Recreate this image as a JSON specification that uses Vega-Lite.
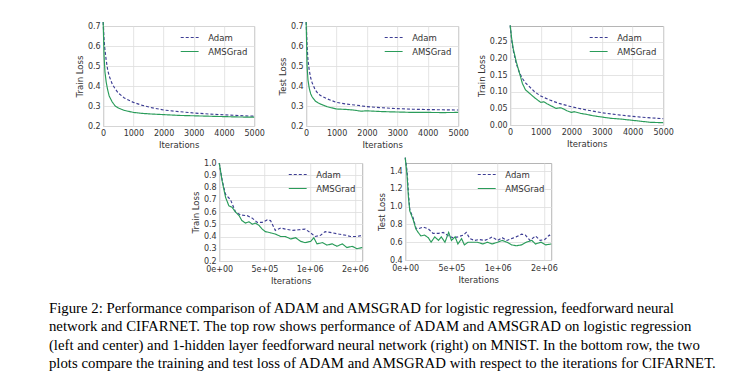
{
  "$schema": "https://vega.github.io/schema/vega-lite/v6.json",
  "background": "white",
  "padding": {"left": 48, "top": 19, "right": 5, "bottom": 5},
  "datasets": {
    "lr_train": [
      {"x":0,"y":0.72,"opt":"Adam"},{"x":30,"y":0.63,"opt":"Adam"},{"x":60,"y":0.58,"opt":"Adam"},{"x":100,"y":0.53,"opt":"Adam"},{"x":150,"y":0.48,"opt":"Adam"},{"x":200,"y":0.45,"opt":"Adam"},{"x":300,"y":0.41,"opt":"Adam"},{"x":400,"y":0.385,"opt":"Adam"},{"x":500,"y":0.365,"opt":"Adam"},{"x":700,"y":0.34,"opt":"Adam"},{"x":1000,"y":0.318,"opt":"Adam"},{"x":1300,"y":0.303,"opt":"Adam"},{"x":1600,"y":0.292,"opt":"Adam"},{"x":2000,"y":0.28,"opt":"Adam"},{"x":2500,"y":0.272,"opt":"Adam"},{"x":3000,"y":0.265,"opt":"Adam"},{"x":3500,"y":0.26,"opt":"Adam"},{"x":4000,"y":0.256,"opt":"Adam"},{"x":4500,"y":0.252,"opt":"Adam"},{"x":5000,"y":0.249,"opt":"Adam"},
      {"x":0,"y":0.72,"opt":"AMSGrad"},{"x":30,"y":0.55,"opt":"AMSGrad"},{"x":60,"y":0.47,"opt":"AMSGrad"},{"x":100,"y":0.42,"opt":"AMSGrad"},{"x":150,"y":0.38,"opt":"AMSGrad"},{"x":200,"y":0.35,"opt":"AMSGrad"},{"x":300,"y":0.32,"opt":"AMSGrad"},{"x":400,"y":0.30,"opt":"AMSGrad"},{"x":500,"y":0.29,"opt":"AMSGrad"},{"x":700,"y":0.278,"opt":"AMSGrad"},{"x":1000,"y":0.268,"opt":"AMSGrad"},{"x":1300,"y":0.263,"opt":"AMSGrad"},{"x":1600,"y":0.26,"opt":"AMSGrad"},{"x":2000,"y":0.257,"opt":"AMSGrad"},{"x":2500,"y":0.253,"opt":"AMSGrad"},{"x":3000,"y":0.251,"opt":"AMSGrad"},{"x":3500,"y":0.249,"opt":"AMSGrad"},{"x":4000,"y":0.247,"opt":"AMSGrad"},{"x":4500,"y":0.245,"opt":"AMSGrad"},{"x":5000,"y":0.244,"opt":"AMSGrad"}
    ],
    "lr_test": [
      {"x":0,"y":0.72,"opt":"Adam"},{"x":30,"y":0.6,"opt":"Adam"},{"x":60,"y":0.53,"opt":"Adam"},{"x":100,"y":0.48,"opt":"Adam"},{"x":150,"y":0.44,"opt":"Adam"},{"x":200,"y":0.415,"opt":"Adam"},{"x":300,"y":0.38,"opt":"Adam"},{"x":400,"y":0.36,"opt":"Adam"},{"x":500,"y":0.35,"opt":"Adam"},{"x":700,"y":0.335,"opt":"Adam"},{"x":1000,"y":0.318,"opt":"Adam"},{"x":1300,"y":0.31,"opt":"Adam"},{"x":1600,"y":0.305,"opt":"Adam"},{"x":2000,"y":0.297,"opt":"Adam"},{"x":2500,"y":0.291,"opt":"Adam"},{"x":3000,"y":0.287,"opt":"Adam"},{"x":3500,"y":0.284,"opt":"Adam"},{"x":4000,"y":0.282,"opt":"Adam"},{"x":4500,"y":0.281,"opt":"Adam"},{"x":5000,"y":0.28,"opt":"Adam"},
      {"x":0,"y":0.72,"opt":"AMSGrad"},{"x":30,"y":0.5,"opt":"AMSGrad"},{"x":60,"y":0.43,"opt":"AMSGrad"},{"x":100,"y":0.39,"opt":"AMSGrad"},{"x":150,"y":0.36,"opt":"AMSGrad"},{"x":200,"y":0.345,"opt":"AMSGrad"},{"x":300,"y":0.325,"opt":"AMSGrad"},{"x":400,"y":0.315,"opt":"AMSGrad"},{"x":500,"y":0.308,"opt":"AMSGrad"},{"x":700,"y":0.296,"opt":"AMSGrad"},{"x":1000,"y":0.285,"opt":"AMSGrad"},{"x":1300,"y":0.283,"opt":"AMSGrad"},{"x":1600,"y":0.279,"opt":"AMSGrad"},{"x":1800,"y":0.274,"opt":"AMSGrad"},{"x":2000,"y":0.276,"opt":"AMSGrad"},{"x":2500,"y":0.272,"opt":"AMSGrad"},{"x":3000,"y":0.27,"opt":"AMSGrad"},{"x":3500,"y":0.268,"opt":"AMSGrad"},{"x":4000,"y":0.268,"opt":"AMSGrad"},{"x":4500,"y":0.267,"opt":"AMSGrad"},{"x":5000,"y":0.268,"opt":"AMSGrad"}
    ],
    "nn_train": [
      {"x":0,"y":0.30,"opt":"Adam"},{"x":50,"y":0.255,"opt":"Adam"},{"x":100,"y":0.225,"opt":"Adam"},{"x":200,"y":0.185,"opt":"Adam"},{"x":300,"y":0.158,"opt":"Adam"},{"x":400,"y":0.14,"opt":"Adam"},{"x":500,"y":0.127,"opt":"Adam"},{"x":600,"y":0.118,"opt":"Adam"},{"x":800,"y":0.1,"opt":"Adam"},{"x":1000,"y":0.087,"opt":"Adam"},{"x":1300,"y":0.075,"opt":"Adam"},{"x":1600,"y":0.065,"opt":"Adam"},{"x":2000,"y":0.055,"opt":"Adam"},{"x":2500,"y":0.045,"opt":"Adam"},{"x":3000,"y":0.037,"opt":"Adam"},{"x":3500,"y":0.031,"opt":"Adam"},{"x":4000,"y":0.026,"opt":"Adam"},{"x":4500,"y":0.022,"opt":"Adam"},{"x":5000,"y":0.019,"opt":"Adam"},
      {"x":0,"y":0.30,"opt":"AMSGrad"},{"x":50,"y":0.26,"opt":"AMSGrad"},{"x":100,"y":0.23,"opt":"AMSGrad"},{"x":200,"y":0.19,"opt":"AMSGrad"},{"x":300,"y":0.158,"opt":"AMSGrad"},{"x":400,"y":0.125,"opt":"AMSGrad"},{"x":500,"y":0.106,"opt":"AMSGrad"},{"x":600,"y":0.098,"opt":"AMSGrad"},{"x":700,"y":0.09,"opt":"AMSGrad"},{"x":800,"y":0.082,"opt":"AMSGrad"},{"x":900,"y":0.075,"opt":"AMSGrad"},{"x":1000,"y":0.068,"opt":"AMSGrad"},{"x":1100,"y":0.07,"opt":"AMSGrad"},{"x":1200,"y":0.064,"opt":"AMSGrad"},{"x":1350,"y":0.057,"opt":"AMSGrad"},{"x":1500,"y":0.05,"opt":"AMSGrad"},{"x":1650,"y":0.052,"opt":"AMSGrad"},{"x":1750,"y":0.048,"opt":"AMSGrad"},{"x":1850,"y":0.043,"opt":"AMSGrad"},{"x":2000,"y":0.038,"opt":"AMSGrad"},{"x":2100,"y":0.04,"opt":"AMSGrad"},{"x":2300,"y":0.035,"opt":"AMSGrad"},{"x":2500,"y":0.032,"opt":"AMSGrad"},{"x":2700,"y":0.028,"opt":"AMSGrad"},{"x":3000,"y":0.024,"opt":"AMSGrad"},{"x":3300,"y":0.02,"opt":"AMSGrad"},{"x":3600,"y":0.018,"opt":"AMSGrad"},{"x":4000,"y":0.014,"opt":"AMSGrad"},{"x":4300,"y":0.011,"opt":"AMSGrad"},{"x":4600,"y":0.008,"opt":"AMSGrad"},{"x":5000,"y":0.007,"opt":"AMSGrad"}
    ],
    "cf_train": [
      {"x":0,"y":1.0,"opt":"Adam"},{"x":35000,"y":0.85,"opt":"Adam"},{"x":70000,"y":0.744,"opt":"Adam"},{"x":125000,"y":0.70,"opt":"Adam"},{"x":180000,"y":0.60,"opt":"Adam"},{"x":240000,"y":0.575,"opt":"Adam"},{"x":310000,"y":0.57,"opt":"Adam"},{"x":365000,"y":0.55,"opt":"Adam"},{"x":420000,"y":0.515,"opt":"Adam"},{"x":475000,"y":0.515,"opt":"Adam"},{"x":530000,"y":0.535,"opt":"Adam"},{"x":567000,"y":0.53,"opt":"Adam"},{"x":620000,"y":0.45,"opt":"Adam"},{"x":680000,"y":0.47,"opt":"Adam"},{"x":730000,"y":0.46,"opt":"Adam"},{"x":810000,"y":0.45,"opt":"Adam"},{"x":880000,"y":0.455,"opt":"Adam"},{"x":950000,"y":0.46,"opt":"Adam"},{"x":1010000,"y":0.43,"opt":"Adam"},{"x":1060000,"y":0.40,"opt":"Adam"},{"x":1120000,"y":0.41,"opt":"Adam"},{"x":1170000,"y":0.44,"opt":"Adam"},{"x":1250000,"y":0.43,"opt":"Adam"},{"x":1320000,"y":0.42,"opt":"Adam"},{"x":1400000,"y":0.41,"opt":"Adam"},{"x":1450000,"y":0.40,"opt":"Adam"},{"x":1520000,"y":0.40,"opt":"Adam"},{"x":1580000,"y":0.41,"opt":"Adam"},
      {"x":0,"y":1.0,"opt":"AMSGrad"},{"x":33000,"y":0.85,"opt":"AMSGrad"},{"x":70000,"y":0.72,"opt":"AMSGrad"},{"x":107000,"y":0.65,"opt":"AMSGrad"},{"x":140000,"y":0.64,"opt":"AMSGrad"},{"x":180000,"y":0.60,"opt":"AMSGrad"},{"x":220000,"y":0.57,"opt":"AMSGrad"},{"x":250000,"y":0.53,"opt":"AMSGrad"},{"x":290000,"y":0.51,"opt":"AMSGrad"},{"x":330000,"y":0.52,"opt":"AMSGrad"},{"x":365000,"y":0.50,"opt":"AMSGrad"},{"x":400000,"y":0.51,"opt":"AMSGrad"},{"x":440000,"y":0.49,"opt":"AMSGrad"},{"x":475000,"y":0.46,"opt":"AMSGrad"},{"x":510000,"y":0.44,"opt":"AMSGrad"},{"x":567000,"y":0.43,"opt":"AMSGrad"},{"x":620000,"y":0.42,"opt":"AMSGrad"},{"x":680000,"y":0.40,"opt":"AMSGrad"},{"x":730000,"y":0.40,"opt":"AMSGrad"},{"x":790000,"y":0.38,"opt":"AMSGrad"},{"x":845000,"y":0.39,"opt":"AMSGrad"},{"x":900000,"y":0.36,"opt":"AMSGrad"},{"x":950000,"y":0.35,"opt":"AMSGrad"},{"x":1010000,"y":0.36,"opt":"AMSGrad"},{"x":1045000,"y":0.39,"opt":"AMSGrad"},{"x":1080000,"y":0.34,"opt":"AMSGrad"},{"x":1140000,"y":0.35,"opt":"AMSGrad"},{"x":1190000,"y":0.33,"opt":"AMSGrad"},{"x":1250000,"y":0.34,"opt":"AMSGrad"},{"x":1300000,"y":0.32,"opt":"AMSGrad"},{"x":1360000,"y":0.34,"opt":"AMSGrad"},{"x":1410000,"y":0.31,"opt":"AMSGrad"},{"x":1470000,"y":0.32,"opt":"AMSGrad"},{"x":1520000,"y":0.30,"opt":"AMSGrad"},{"x":1580000,"y":0.31,"opt":"AMSGrad"}
    ],
    "cf_test": [
      {"x":0,"y":1.55,"opt":"Adam"},{"x":20000,"y":1.4,"opt":"Adam"},{"x":35000,"y":1.15,"opt":"Adam"},{"x":50000,"y":0.96,"opt":"Adam"},{"x":87000,"y":0.87,"opt":"Adam"},{"x":115000,"y":0.76,"opt":"Adam"},{"x":140000,"y":0.75,"opt":"Adam"},{"x":195000,"y":0.77,"opt":"Adam"},{"x":250000,"y":0.75,"opt":"Adam"},{"x":300000,"y":0.70,"opt":"Adam"},{"x":360000,"y":0.70,"opt":"Adam"},{"x":410000,"y":0.71,"opt":"Adam"},{"x":470000,"y":0.67,"opt":"Adam"},{"x":520000,"y":0.65,"opt":"Adam"},{"x":570000,"y":0.66,"opt":"Adam"},{"x":630000,"y":0.68,"opt":"Adam"},{"x":660000,"y":0.71,"opt":"Adam"},{"x":700000,"y":0.64,"opt":"Adam"},{"x":750000,"y":0.62,"opt":"Adam"},{"x":800000,"y":0.63,"opt":"Adam"},{"x":860000,"y":0.62,"opt":"Adam"},{"x":910000,"y":0.64,"opt":"Adam"},{"x":940000,"y":0.66,"opt":"Adam"},{"x":1000000,"y":0.62,"opt":"Adam"},{"x":1050000,"y":0.65,"opt":"Adam"},{"x":1100000,"y":0.62,"opt":"Adam"},{"x":1150000,"y":0.64,"opt":"Adam"},{"x":1200000,"y":0.66,"opt":"Adam"},{"x":1260000,"y":0.69,"opt":"Adam"},{"x":1300000,"y":0.68,"opt":"Adam"},{"x":1350000,"y":0.62,"opt":"Adam"},{"x":1410000,"y":0.67,"opt":"Adam"},{"x":1460000,"y":0.62,"opt":"Adam"},{"x":1510000,"y":0.63,"opt":"Adam"},{"x":1560000,"y":0.68,"opt":"Adam"},{"x":1580000,"y":0.66,"opt":"Adam"},
      {"x":0,"y":1.55,"opt":"AMSGrad"},{"x":20000,"y":1.35,"opt":"AMSGrad"},{"x":35000,"y":1.1,"opt":"AMSGrad"},{"x":50000,"y":0.95,"opt":"AMSGrad"},{"x":87000,"y":0.85,"opt":"AMSGrad"},{"x":115000,"y":0.75,"opt":"AMSGrad"},{"x":140000,"y":0.71,"opt":"AMSGrad"},{"x":170000,"y":0.67,"opt":"AMSGrad"},{"x":210000,"y":0.68,"opt":"AMSGrad"},{"x":250000,"y":0.65,"opt":"AMSGrad"},{"x":280000,"y":0.60,"opt":"AMSGrad"},{"x":320000,"y":0.66,"opt":"AMSGrad"},{"x":360000,"y":0.62,"opt":"AMSGrad"},{"x":390000,"y":0.66,"opt":"AMSGrad"},{"x":430000,"y":0.60,"opt":"AMSGrad"},{"x":470000,"y":0.71,"opt":"AMSGrad"},{"x":500000,"y":0.62,"opt":"AMSGrad"},{"x":540000,"y":0.66,"opt":"AMSGrad"},{"x":570000,"y":0.58,"opt":"AMSGrad"},{"x":610000,"y":0.64,"opt":"AMSGrad"},{"x":640000,"y":0.57,"opt":"AMSGrad"},{"x":680000,"y":0.60,"opt":"AMSGrad"},{"x":730000,"y":0.60,"opt":"AMSGrad"},{"x":780000,"y":0.60,"opt":"AMSGrad"},{"x":840000,"y":0.58,"opt":"AMSGrad"},{"x":890000,"y":0.60,"opt":"AMSGrad"},{"x":940000,"y":0.58,"opt":"AMSGrad"},{"x":1000000,"y":0.60,"opt":"AMSGrad"},{"x":1050000,"y":0.62,"opt":"AMSGrad"},{"x":1100000,"y":0.60,"opt":"AMSGrad"},{"x":1150000,"y":0.57,"opt":"AMSGrad"},{"x":1200000,"y":0.56,"opt":"AMSGrad"},{"x":1260000,"y":0.57,"opt":"AMSGrad"},{"x":1310000,"y":0.60,"opt":"AMSGrad"},{"x":1370000,"y":0.62,"opt":"AMSGrad"},{"x":1410000,"y":0.58,"opt":"AMSGrad"},{"x":1470000,"y":0.60,"opt":"AMSGrad"},{"x":1520000,"y":0.57,"opt":"AMSGrad"},{"x":1580000,"y":0.58,"opt":"AMSGrad"}
    ]
  },
  "config": {
    "view": {"stroke": "#b5b5b5", "strokeWidth": 1},
    "font": "DejaVu Sans",
    "axis": {"labelFont": "DejaVu Sans", "labelFontSize": 8, "labelColor": "#333333", "titleFont": "DejaVu Sans", "titleFontSize": 8.5, "titleFontWeight": "normal", "titleColor": "#333333", "domain": false, "ticks": false, "gridColor": "#dddddd", "gridWidth": 0.8, "labelPadding": 3, "titlePadding": 3, "labelOverlap": false, "labelFlush": false},
    "legend": {"labelFont": "DejaVu Sans", "labelFontSize": 8.5, "labelColor": "#333333", "symbolType": "M-2,0H2", "symbolSize": 80, "symbolStrokeWidth": 1.2, "rowPadding": 4, "labelOffset": 13, "padding": 0, "offset": 6, "title": null},
    "line": {"strokeWidth": 1.15, "clip": true}
  },
  "title": {
    "text": [
      "Figure 2: Performance comparison of ADAM and AMSGRAD for logistic regression, feedforward neural",
      "network and CIFARNET. The top row shows performance of ADAM and AMSGRAD on logistic regression",
      "(left and center) and 1-hidden layer feedforward neural network (right) on MNIST. In the bottom row, the two",
      "plots compare the training and test loss of ADAM and AMSGRAD with respect to the iterations for CIFARNET."
    ],
    "orient": "bottom", "anchor": "start", "frame": "bounds", "font": "Liberation Serif", "fontSize": 14.8, "fontWeight": "normal", "color": "#000000", "lineHeight": 18.5, "offset": 15, "dx": -26
  },
  "center": true,
  "spacing": 5,
  "resolve": {"legend": {"color": "independent", "strokeDash": "independent"}},
  "vconcat": [
    {
      "bounds": "flush",
      "spacing": 52,
      "resolve": {"legend": {"color": "independent", "strokeDash": "independent"}},
      "hconcat": [
        {
          "width": 151, "height": 100,
          "data": {"name": "lr_train"},
          "mark": {"type": "line"},
          "encoding": {
            "x": {"field": "x", "type": "quantitative", "scale": {"domain": [0, 5000], "nice": false}, "axis": {"title": "Iterations", "values": [0, 1000, 2000, 3000, 4000, 5000], "format": "d"}},
            "y": {"field": "y", "type": "quantitative", "scale": {"domain": [0.2, 0.7], "nice": false, "zero": false}, "axis": {"title": "Train Loss", "values": [0.2, 0.3, 0.4, 0.5, 0.6, 0.7], "format": ".1f"}},
            "color": {"field": "opt", "type": "nominal", "scale": {"domain": ["Adam", "AMSGrad"], "range": ["#3d3d94", "#2a9c5a"]}, "legend": {"orient": "top-right"}},
            "strokeDash": {"field": "opt", "type": "nominal", "scale": {"domain": ["Adam", "AMSGrad"], "range": [[3, 2], [1, 0]]}, "legend": {"orient": "top-right"}}
          }
        },
        {
          "width": 152, "height": 100,
          "data": {"name": "lr_test"},
          "mark": {"type": "line"},
          "encoding": {
            "x": {"field": "x", "type": "quantitative", "scale": {"domain": [0, 5000], "nice": false}, "axis": {"title": "Iterations", "values": [0, 1000, 2000, 3000, 4000, 5000], "format": "d"}},
            "y": {"field": "y", "type": "quantitative", "scale": {"domain": [0.2, 0.7], "nice": false, "zero": false}, "axis": {"title": "Test Loss", "values": [0.2, 0.3, 0.4, 0.5, 0.6, 0.7], "format": ".1f"}},
            "color": {"field": "opt", "type": "nominal", "scale": {"domain": ["Adam", "AMSGrad"], "range": ["#3d3d94", "#2a9c5a"]}, "legend": {"orient": "top-right"}},
            "strokeDash": {"field": "opt", "type": "nominal", "scale": {"domain": ["Adam", "AMSGrad"], "range": [[3, 2], [1, 0]]}, "legend": {"orient": "top-right"}}
          }
        },
        {
          "width": 153, "height": 99,
          "data": {"name": "nn_train"},
          "mark": {"type": "line"},
          "encoding": {
            "x": {"field": "x", "type": "quantitative", "scale": {"domain": [0, 5000], "nice": false}, "axis": {"title": "Iterations", "values": [0, 1000, 2000, 3000, 4000, 5000], "format": "d"}},
            "y": {"field": "y", "type": "quantitative", "scale": {"domain": [0, 0.298], "nice": false, "zero": false}, "axis": {"title": "Train Loss", "values": [0, 0.05, 0.1, 0.15, 0.2, 0.25], "format": ".2f"}},
            "color": {"field": "opt", "type": "nominal", "scale": {"domain": ["Adam", "AMSGrad"], "range": ["#3d3d94", "#2a9c5a"]}, "legend": {"orient": "top-right"}},
            "strokeDash": {"field": "opt", "type": "nominal", "scale": {"domain": ["Adam", "AMSGrad"], "range": [[3, 2], [1, 0]]}, "legend": {"orient": "top-right"}}
          }
        }
      ]
    },
    {
      "bounds": "flush",
      "spacing": 43,
      "resolve": {"legend": {"color": "independent", "strokeDash": "independent"}},
      "hconcat": [
        {
          "width": 143, "height": 98,
          "data": {"name": "cf_train"},
          "mark": {"type": "line"},
          "encoding": {
            "x": {"field": "x", "type": "quantitative", "scale": {"domain": [0, 1580000], "nice": false}, "axis": {"title": "Iterations", "labelPadding": 4.5, "values": [0, 500000, 1000000, 1500000], "labelExpr": "datum.value == 0 ? '0e+00' : datum.value == 500000 ? '5e+05' : datum.value == 1000000 ? '1e+06' : '2e+06'"}},
            "y": {"field": "y", "type": "quantitative", "scale": {"domain": [0.2, 1.0], "nice": false, "zero": false}, "axis": {"title": "Train Loss", "values": [0.2, 0.3, 0.4, 0.5, 0.6, 0.7, 0.8, 0.9, 1.0], "format": ".1f"}},
            "color": {"field": "opt", "type": "nominal", "scale": {"domain": ["Adam", "AMSGrad"], "range": ["#3d3d94", "#2a9c5a"]}, "legend": {"orient": "top-right"}},
            "strokeDash": {"field": "opt", "type": "nominal", "scale": {"domain": ["Adam", "AMSGrad"], "range": [[3, 2], [1, 0]]}, "legend": {"orient": "top-right"}}
          }
        },
        {
          "width": 146, "height": 97,
          "data": {"name": "cf_test"},
          "mark": {"type": "line"},
          "encoding": {
            "x": {"field": "x", "type": "quantitative", "scale": {"domain": [0, 1580000], "nice": false}, "axis": {"title": "Iterations", "labelPadding": 4.5, "values": [0, 500000, 1000000, 1500000], "labelExpr": "datum.value == 0 ? '0e+00' : datum.value == 500000 ? '5e+05' : datum.value == 1000000 ? '1e+06' : '2e+06'"}},
            "y": {"field": "y", "type": "quantitative", "scale": {"domain": [0.4, 1.49], "nice": false, "zero": false}, "axis": {"title": "Test Loss", "values": [0.4, 0.6, 0.8, 1.0, 1.2, 1.4], "format": ".1f"}},
            "color": {"field": "opt", "type": "nominal", "scale": {"domain": ["Adam", "AMSGrad"], "range": ["#3d3d94", "#2a9c5a"]}, "legend": {"orient": "top-right"}},
            "strokeDash": {"field": "opt", "type": "nominal", "scale": {"domain": ["Adam", "AMSGrad"], "range": [[3, 2], [1, 0]]}, "legend": {"orient": "top-right"}}
          }
        }
      ]
    }
  ]
}
